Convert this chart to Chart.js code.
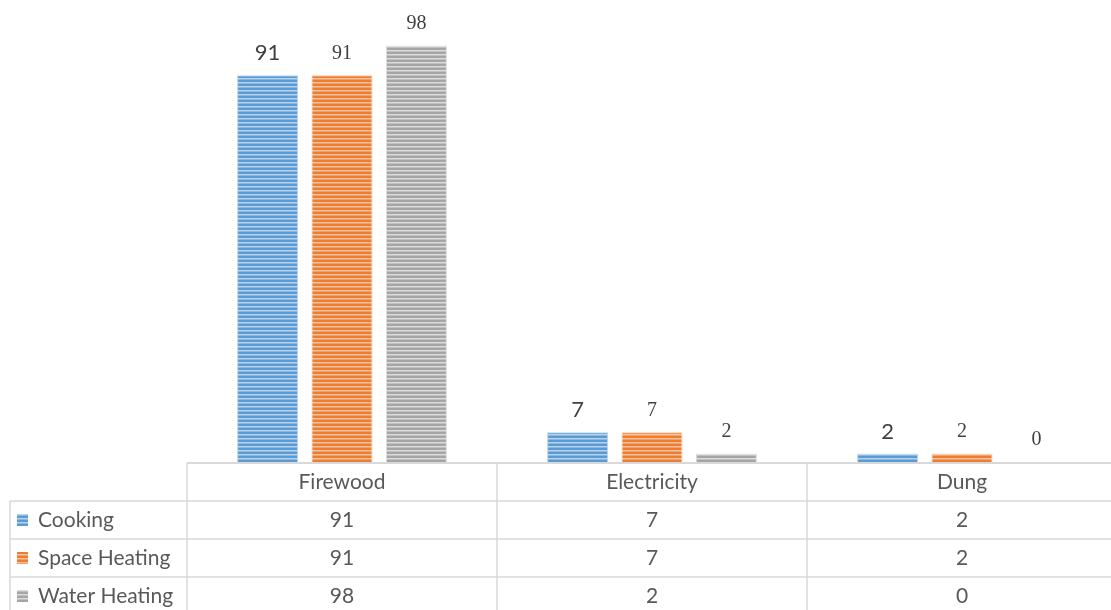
<!DOCTYPE html>
<html>
<head>
<meta charset="utf-8">
<script src="https://cdn.jsdelivr.net/npm/chart.js@4"></script>
<style>
  html, body { margin: 0; padding: 0; background: #fff; overflow: hidden; }
  #wrap { width: 1117px; height: 610px; position: relative; }
</style>
</head>
<body>
<div id="wrap"><canvas id="fuelChart"></canvas></div>
<script>
// Fuel source by household use (%)
const categories = ['Firewood', 'Electricity', 'Dung'];
const cooking = [91, 7, 2];
const spaceHeating = [91, 7, 2];
const waterHeating = [98, 2, 0];
const seriesNames = ['Cooking', 'Space Heating', 'Water Heating'];

const baseColors = ['#5b9bd5', '#ed7d31', '#a5a5a5'];
const lightColors = ['#b8d3ec', '#f7c4a2', '#dcdcdc'];
const labelFonts = ['22px Lato, "Open Sans", sans-serif', '20px "Liberation Serif", serif', '20px "Liberation Serif", serif'];

// horizontal stripe fill like Excel's narrow horizontal pattern
function stripes(i) {
    const c = document.createElement('canvas');
    c.width = 4; c.height = 4;
    const g = c.getContext('2d');
    g.fillStyle = baseColors[i];
    g.fillRect(0, 0, 4, 4);
    g.fillStyle = lightColors[i];
    g.fillRect(0, 2, 4, 1);
    g.globalAlpha = 0.5;
    g.fillRect(0, 3, 4, 1);
    return g.createPattern(c, 'repeat');
}

const ctx = document.getElementById('fuelChart').getContext('2d');

const gridColor = '#d9d9d9';
const textColor = '#595959';

// value labels above each bar
const barLabels = {
    id: 'barLabels',
    afterDatasetsDraw(chart) {
        const c = chart.ctx;
        c.save();
        c.textAlign = 'center';
        c.textBaseline = 'middle';
        c.fillStyle = '#404040';
        chart.data.datasets.forEach((ds, i) => {
            const meta = chart.getDatasetMeta(i);
            c.font = labelFonts[i];
            meta.data.forEach((bar, j) => {
                c.fillText(String(ds.data[j]), bar.x, bar.y - 22);
            });
        });
        c.restore();
    }
};

// data table under the plot
const dataTable = {
    id: 'dataTable',
    afterDraw(chart) {
        const c = chart.ctx;
        const area = chart.chartArea;
        const xs = chart.scales.x;
        const colW = xs.getPixelForValue(1) - xs.getPixelForValue(0);
        const top = area.bottom;
        const rowH = 38;
        const headerH = 39;
        const left = 10;
        const right = chart.width;

        c.save();
        c.strokeStyle = gridColor;
        c.lineWidth = 2;
        // axis line
        c.beginPath();
        c.moveTo(area.left, top + 1);
        c.lineTo(right, top + 1);
        c.stroke();

        c.lineWidth = 1.5;
        c.beginPath();
        // row lines
        for (let r = 0; r < 3; r++) {
            const y = top + headerH + r * rowH;
            c.moveTo(left, y);
            c.lineTo(right, y);
        }
        // column lines
        c.moveTo(left, top + headerH);
        c.lineTo(left, chart.height);
        for (let k = 0; k < categories.length; k++) {
            const x = xs.getPixelForValue(k) - colW / 2;
            c.moveTo(x, top + 1);
            c.lineTo(x, chart.height);
        }
        c.stroke();

        c.fillStyle = textColor;
        c.font = '21px Lato, "Open Sans", sans-serif';
        c.textAlign = 'center';
        c.textBaseline = 'middle';
        categories.forEach((cat, k) => {
            c.fillText(cat, xs.getPixelForValue(k), top + headerH / 2 + 1);
        });

        chart.data.datasets.forEach((ds, i) => {
            const yMid = top + headerH + i * rowH + rowH / 2;
            c.fillStyle = textColor;
            c.textAlign = 'center';
            ds.data.forEach((v, k) => {
                c.fillText(String(v), xs.getPixelForValue(k), yMid);
            });
            // legend key
            c.fillStyle = ds.backgroundColor;
            c.fillRect(17, yMid - 6, 11, 12);
            c.fillStyle = textColor;
            c.textAlign = 'left';
            c.fillText(seriesNames[i], 38, yMid);
        });
        c.restore();
    }
};

const chart = new Chart(ctx, {
    type: 'bar',
    data: {
        labels: categories,
        datasets: [
            { label: seriesNames[0], data: cooking, backgroundColor: stripes(0), borderColor: lightColors[0], borderWidth: 1 },
            { label: seriesNames[1], data: spaceHeating, backgroundColor: stripes(1), borderColor: lightColors[1], borderWidth: 1 },
            { label: seriesNames[2], data: waterHeating, backgroundColor: stripes(2), borderColor: lightColors[2], borderWidth: 1 }
        ]
    },
    options: {
        responsive: true,
        maintainAspectRatio: false,
        animation: false,
        categoryPercentage: 0.72,
        barPercentage: 0.82,
        layout: { padding: { left: 187, right: 0, top: 37, bottom: 148 } },
        plugins: {
            legend: { display: false },
            tooltip: { enabled: false }
        },
        scales: {
            x: { display: false },
            y: { display: false, min: 0, max: 100 }
        }
    },
    plugins: [barLabels, dataTable]
});
</script>
</body>
</html>
